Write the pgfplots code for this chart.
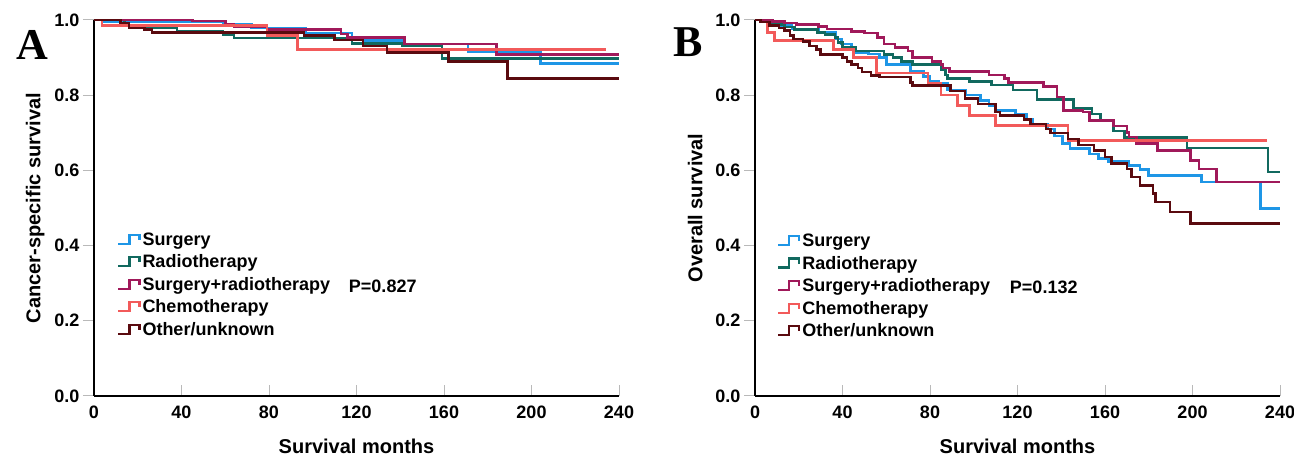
\documentclass[border=0pt]{standalone}
\usepackage{fontspec}
\setmainfont{Liberation Sans}
\newfontfamily\panelfont{Liberation Serif}
\usepackage{pgfplots}
\pgfplotsset{compat=1.18}

\definecolor{csurg}{RGB}{30,150,230}
\definecolor{cradio}{RGB}{17,105,95}
\definecolor{csr}{RGB}{160,25,90}
\definecolor{cchemo}{RGB}{242,90,90}
\definecolor{cother}{RGB}{90,10,15}

\pgfplotsset{
  kmaxis/.style={
    scale only axis, width=525pt, height=376pt,
    xmin=0, xmax=240, ymin=0, ymax=1,
    axis x line=bottom, axis y line=left,
    axis line style={black, line width=1.8pt, -},
    xtick={0,40,80,120,160,200,240},
    ytick={0,0.2,0.4,0.6,0.8,1},
    xtick align=inside, ytick align=outside,
    major tick length=11pt,
    tick style={gray!55, line width=1pt},
    /pgf/number format/assume math mode=true,
    yticklabel style={/pgf/number format/.cd, fixed, fixed zerofill, precision=1},
    tick label style={font=\bfseries\fontsize{18}{20}\selectfont},
    xticklabel style={yshift=-6pt},
    label style={font=\bfseries\fontsize{20}{22}\selectfont},
    xlabel={Survival months},
    xlabel style={at={(axis description cs:0.5,0)}, anchor=center, yshift=-50pt},
    legend cell align=left,
    legend style={draw=none, fill=none, inner sep=0pt,
      font=\bfseries\fontsize{18}{20}\selectfont,
      row sep=4pt, anchor=north west},
    legend image code/.code={
      \draw[#1, line width=2.2pt] (0pt,-4pt) -- (11pt,-4pt) -- (11pt,5pt) -- (21pt,5pt) -- (21pt,0pt);},
    every axis plot/.append style={const plot, line width=2.6pt},
    clip=false,
  }
}

\begin{document}
\begin{tikzpicture}
\useasboundingbox (0,0) rectangle (1294pt,455pt);

\node[font=\panelfont\bfseries\fontsize{44}{44}\selectfont] at (32pt,410pt) {A};
\node[font=\panelfont\bfseries\fontsize{44}{44}\selectfont] at (688pt,413pt) {B};

% panel A: cancer-specific survival
\begin{axis}[kmaxis, at={(94pt,59pt)}, anchor=south west,
  ylabel={Cancer-specific survival},
  ylabel style={at={(axis description cs:-0.112,0.5)}, anchor=center},
  legend style={at={(axis description cs:0.044,0.44)}}]
\addplot[csurg] coordinates {(0,1)(4,0.995)(59,0.988)(72,0.979)(97,0.965)(118,0.954)(124,0.945)(141,0.936)(171,0.916)(204,0.884)(240,0.884)};
\addlegendentry{Surgery}
\addplot[cradio] coordinates {(0,1)(14,0.99)(16,0.979)(38,0.97)(59,0.961)(64,0.952)(118,0.938)(141,0.931)(159,0.897)(240,0.897)};
\addlegendentry{Radiotherapy}
\addplot[csr] coordinates {(0,1)(45,0.997)(60,0.988)(64,0.983)(79,0.974)(113,0.963)(116,0.954)(142,0.936)(184,0.909)(240,0.909)};
\addlegendentry{Surgery+radiotherapy}
\addplot[cchemo] coordinates {(0,1)(3.6,0.986)(79,0.958)(93,0.922)(234,0.922)};
\addlegendentry{Chemotherapy}
\addplot[cother] coordinates {(0,1)(12,0.992)(16,0.979)(23,0.974)(26.5,0.967)(96,0.958)(110,0.947)(123,0.931)(134,0.913)(162,0.889)(189,0.845)(240,0.845)};
\addlegendentry{Other/unknown}
\node[font=\bfseries\fontsize{18}{20}\selectfont] at (axis cs:132,0.293) {P=0.827};
\end{axis}

% panel B: overall survival
\begin{axis}[kmaxis, at={(755pt,59pt)}, anchor=south west,
  ylabel={Overall survival},
  ylabel style={at={(axis description cs:-0.114,0.5)}, anchor=center},
  legend style={at={(axis description cs:0.042,0.436)}}]
\addplot[csurg] coordinates {(0,1)(2.5,0.995)(9,0.986)(17,0.976)(29,0.967)(37,0.949)(39.6,0.936)(44,0.927)(45,0.913)(52,0.91)(57,0.901)(60,0.881)(71,0.863)(77,0.85)(80,0.836)(84,0.832)(88,0.814)(96.5,0.80)(103,0.786)(107,0.773)(110,0.759)(119,0.75)(124,0.737)(127,0.723)(134,0.71)(137,0.691)(140.5,0.671)(144,0.658)(153,0.644)(157,0.631)(161.5,0.624)(171,0.613)(176,0.603)(180,0.587)(204,0.569)(231,0.498)(240,0.498)};
\addlegendentry{Surgery}
\addplot[cradio] coordinates {(0,1)(2.5,0.995)(7,0.988)(13.6,0.981)(18,0.974)(28.6,0.967)(32,0.961)(36.5,0.954)(38,0.94)(40,0.927)(46,0.918)(59,0.909)(63,0.90)(67,0.89)(72,0.881)(85,0.868)(87,0.854)(88,0.845)(98,0.836)(108,0.827)(118,0.814)(129,0.789)(145.5,0.764)(154,0.75)(158,0.732)(164,0.705)(169,0.687)(197.5,0.66)(234.5,0.596)(240,0.596)};
\addlegendentry{Radiotherapy}
\addplot[csr] coordinates {(0,1)(8,0.996)(13.6,0.992)(19,0.988)(29,0.983)(33,0.976)(44,0.97)(50,0.965)(56,0.954)(59,0.936)(64,0.927)(70,0.918)(72,0.901)(81,0.89)(85,0.881)(86,0.872)(89,0.863)(107,0.854)(114,0.845)(116,0.833)(132,0.823)(138,0.795)(141,0.759)(150,0.755)(153,0.732)(164,0.718)(170,0.70)(171,0.689)(174.5,0.671)(184,0.653)(199,0.627)(203,0.604)(211,0.569)(240,0.569)};
\addlegendentry{Surgery+radiotherapy}
\addplot[cchemo] coordinates {(0,1)(2.5,0.995)(5.7,0.967)(9,0.945)(36,0.922)(45,0.901)(55.5,0.859)(79,0.832)(85,0.80)(92.6,0.773)(98,0.746)(110,0.719)(143,0.68)(234,0.68)};
\addlegendentry{Chemotherapy}
\addplot[cother] coordinates {(0,1)(2.5,0.995)(6.5,0.986)(11,0.979)(13.6,0.972)(16,0.958)(17.5,0.949)(22,0.943)(25,0.931)(28,0.922)(30,0.909)(40,0.90)(42,0.89)(44,0.881)(47,0.872)(49,0.862)(53,0.852)(57,0.848)(71,0.834)(72,0.825)(89.5,0.811)(96,0.791)(102,0.777)(110,0.755)(112,0.746)(123,0.735)(126,0.723)(133,0.71)(135,0.699)(143,0.684)(148,0.668)(155,0.653)(160,0.636)(163,0.618)(170,0.604)(172,0.582)(176,0.56)(182,0.538)(183,0.516)(189.7,0.489)(199,0.458)(240,0.458)};
\addlegendentry{Other/unknown}
\node[font=\bfseries\fontsize{18}{20}\selectfont] at (axis cs:132,0.29) {P=0.132};
\end{axis}
\end{tikzpicture}
\end{document}
